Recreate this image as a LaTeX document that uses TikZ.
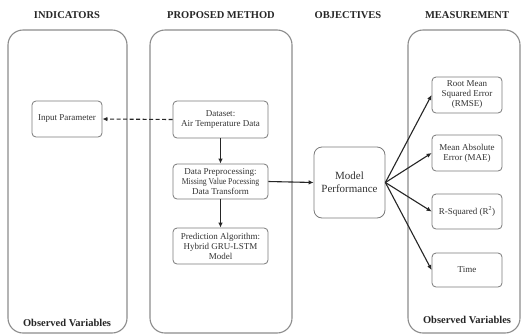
\documentclass[tikz,border=0pt]{standalone}
\usepackage{fontspec}
\setmainfont{Liberation Serif}
\usetikzlibrary{arrows.meta}
\definecolor{colborder}{HTML}{8C8C8C}
\definecolor{boxborder}{HTML}{7A7A7A}
\definecolor{boxtext}{HTML}{333333}
\begin{document}
\begin{tikzpicture}[x=1pt,y=-1pt,
  column/.style={draw=colborder,line width=1.1pt,rounded corners=15pt},
  header/.style={font=\fontsize{10.5}{12}\selectfont\bfseries,text=black!85},
  itembox/.style={draw=boxborder,line width=0.8pt,rounded corners=4pt,align=center,
    text=boxtext,font=\fontsize{9}{10}\selectfont,inner sep=1pt},
  conn/.style={line width=1.1pt,draw=black!85,-{Latex[length=5pt,width=4.5pt]}}]
\useasboundingbox (0,0) rectangle (521,335);
\fill[white] (0,0) rectangle (521,335);
% columns
\draw[column] (8,30) rectangle (127,333);
\draw[column] (150,30) rectangle (292,333);
\draw[column] (408,30) rectangle (520,333);
% headers
\node[header] (h1) at (67,15) {INDICATORS};
\node[header] (h2) at (221,15) {PROPOSED METHOD};
\node[header] (h3) at (348,15) {OBJECTIVES};
\node[header] (h4) at (467,15) {MEASUREMENT};
\node[header] (ov1) at (67,323) {Observed Variables};
\node[header] (ov2) at (467,320) {Observed Variables};
% boxes
\node[itembox,minimum width=70pt,minimum height=36pt] (inp) at (67,119) {Input Parameter};
\node[itembox,minimum width=95pt,minimum height=37pt] (ds) at (220.5,119.5) {Dataset:\\Air Temperature Data};
\node[itembox,minimum width=95pt,minimum height=35pt] (pre) at (220.5,181.5) {Data Preprocessing:\\\scalebox{0.86}[1]{Missing Value Pocessing}\\Data Transform};
\node[itembox,minimum width=95pt,minimum height=36pt] (pred) at (220.5,246) {Prediction Algorithm:\\Hybrid GRU-LSTM\\Model};
\node[itembox,minimum width=71pt,minimum height=71pt,rounded corners=8pt,font=\fontsize{11}{13}\selectfont] (mp) at (349.5,182.5) {Model\\Performance};
\node[itembox,minimum width=70pt,minimum height=36pt] (rmse) at (467,95) {Root Mean\\Squared Error\\(RMSE)};
\node[itembox,minimum width=70pt,minimum height=36pt] (mae) at (467,153) {Mean Absolute\\Error (MAE)};
\node[itembox,minimum width=70pt,minimum height=35pt] (r2) at (467,211.5) {R-Squared (R\textsuperscript{2})};
\node[itembox,minimum width=70pt,minimum height=34pt] (time) at (467,270) {Time};
% connectors
\draw[conn,dashed,dash pattern=on 4pt off 2.5pt] (ds.west) -- (inp.east);
\draw[conn] (ds.south) -- (pre.north);
\draw[conn] (pre.south) -- (pred.north);
\draw[conn] (pre.east) -- (mp.west);
\draw[conn] (mp.east) -- (rmse.west);
\draw[conn] (mp.east) -- (mae.west);
\draw[conn] (mp.east) -- (r2.west);
\draw[conn] (mp.east) -- (time.west);
\end{tikzpicture}
\end{document}
